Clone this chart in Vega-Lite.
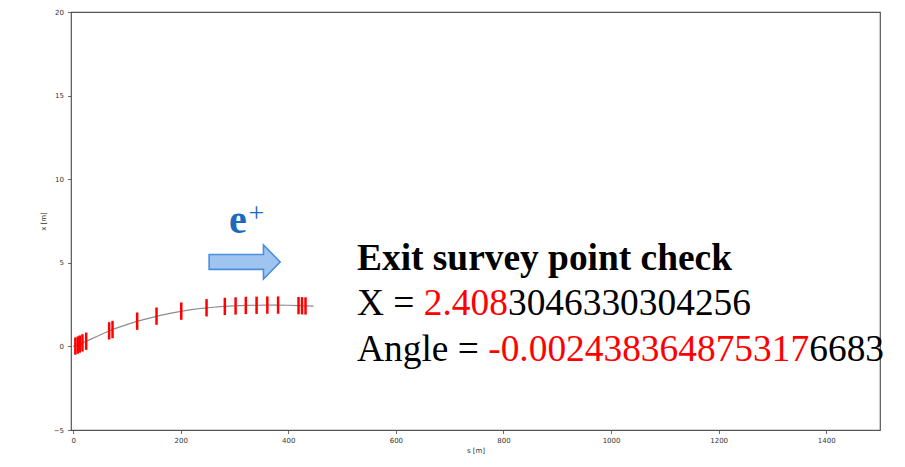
{
  "$schema": "https://vega.github.io/schema/vega-lite/v6.json",
  "width": 809,
  "height": 418,
  "autosize": "none",
  "padding": {"left": 71, "top": 12, "right": 25, "bottom": 37},
  "background": "white",
  "config": {
    "view": {"stroke": "#555555", "strokeWidth": 1.2},
    "axis": {
      "domain": false,
      "grid": false,
      "tickColor": "#444444",
      "tickSize": 3.5,
      "tickWidth": 0.8,
      "labelFont": "DejaVu Sans",
      "labelFontSize": 7,
      "labelColor": "#333333",
      "titleFont": "DejaVu Sans",
      "titleFontSize": 7,
      "titleFontWeight": "normal",
      "titleColor": "#333333"
    }
  },
  "datasets": {
    "curve": [
      {"s": 0, "x": 0.0}, {"s": 10, "x": 0.1}, {"s": 20, "x": 0.25}, {"s": 30, "x": 0.39},
      {"s": 45, "x": 0.61}, {"s": 60, "x": 0.83}, {"s": 75, "x": 1.03}, {"s": 90, "x": 1.2},
      {"s": 105, "x": 1.36}, {"s": 120, "x": 1.51}, {"s": 140, "x": 1.68}, {"s": 160, "x": 1.84},
      {"s": 180, "x": 1.98}, {"s": 200, "x": 2.1}, {"s": 220, "x": 2.2}, {"s": 240, "x": 2.28},
      {"s": 260, "x": 2.34}, {"s": 280, "x": 2.39}, {"s": 300, "x": 2.42}, {"s": 320, "x": 2.45},
      {"s": 340, "x": 2.46}, {"s": 360, "x": 2.47}, {"s": 380, "x": 2.47}, {"s": 400, "x": 2.46},
      {"s": 420, "x": 2.44}, {"s": 447, "x": 2.41}
    ],
    "magnets": [
      {"s": 4.1, "x": 0.02}, {"s": 8.6, "x": 0.08}, {"s": 12.3, "x": 0.14}, {"s": 17.3, "x": 0.21},
      {"s": 24.2, "x": 0.31}, {"s": 66.9, "x": 0.93}, {"s": 73.2, "x": 1.01}, {"s": 119, "x": 1.51},
      {"s": 155, "x": 1.81}, {"s": 201, "x": 2.11}, {"s": 248, "x": 2.31}, {"s": 282, "x": 2.39},
      {"s": 302, "x": 2.42}, {"s": 321, "x": 2.45}, {"s": 341, "x": 2.46}, {"s": 361, "x": 2.47},
      {"s": 381, "x": 2.47}, {"s": 419, "x": 2.44}, {"s": 425.5, "x": 2.43}, {"s": 432, "x": 2.42}
    ],
    "arrow": [{"s": 318.8, "x": 5.05}],
    "electron": [{"s": 289.7, "x": 6.78, "text": "e"}],
    "charge": [{"s": 326, "x": 7.44, "text": "+"}],
    "heading": [{"s": 527.7, "x": 4.57, "text": "Exit survey point check"}],
    "blacktext": [
      {"s": 527.7, "x": 1.87, "text": "X ="},
      {"s": 808.3, "x": 1.87, "text": "3046330304256"},
      {"s": 527.7, "x": -0.87, "text": "Angle ="},
      {"s": 1368.5, "x": -0.87, "text": "6683"}
    ],
    "redtext": [
      {"s": 651.8, "x": 1.87, "text": "2.408"},
      {"s": 771.6, "x": -0.87, "text": "-0.002438364875317"}
    ]
  },
  "encoding": {
    "x": {
      "field": "s", "type": "quantitative",
      "scale": {"domain": [-4, 1500], "nice": false, "zero": false},
      "axis": {"title": "s [m]", "values": [0, 200, 400, 600, 800, 1000, 1200, 1400], "format": "d", "labelPadding": 3, "titlePadding": 3}
    },
    "y": {
      "field": "x", "type": "quantitative",
      "scale": {"domain": [-5, 20], "nice": false, "zero": false},
      "axis": {"title": "x [m]", "values": [-5, 0, 5, 10, 15, 20], "format": "d", "labelPadding": 4, "titlePadding": 7, "labelExpr": "replace(datum.label, '-', '−')"}
    }
  },
  "layer": [
    {
      "data": {"name": "curve"},
      "mark": {"type": "line", "color": "#8c8c8c", "strokeWidth": 1.2}
    },
    {
      "data": {"name": "magnets"},
      "mark": {"type": "point", "shape": "M0,-1L0,1", "size": 300, "filled": false, "color": "#ff0000", "strokeWidth": 2.5, "opacity": 1}
    },
    {
      "data": {"name": "arrow"},
      "mark": {"type": "point", "shape": "M-1,-0.21L0.53,-0.21L0.53,-0.48L1,0L0.53,0.48L0.53,0.21L-1,0.21Z", "size": 5041, "filled": true, "fill": "#9fc4ef", "stroke": "#4a8ee0", "strokeWidth": 1.6, "opacity": 1}
    },
    {
      "data": {"name": "electron"},
      "mark": {"type": "text", "align": "left", "baseline": "alphabetic", "font": "Liberation Serif", "fontSize": 40, "fontWeight": "bold", "color": "#1b6ac0"},
      "encoding": {"text": {"field": "text"}}
    },
    {
      "data": {"name": "charge"},
      "mark": {"type": "text", "align": "left", "baseline": "alphabetic", "font": "Liberation Serif", "fontSize": 28, "color": "#1b6ac0"},
      "encoding": {"text": {"field": "text"}}
    },
    {
      "data": {"name": "heading"},
      "mark": {"type": "text", "align": "left", "baseline": "alphabetic", "font": "Liberation Serif", "fontSize": 37.4, "fontWeight": "bold", "color": "#000000"},
      "encoding": {"text": {"field": "text"}}
    },
    {
      "data": {"name": "blacktext"},
      "mark": {"type": "text", "align": "left", "baseline": "alphabetic", "font": "Liberation Serif", "fontSize": 37.4, "color": "#000000"},
      "encoding": {"text": {"field": "text"}}
    },
    {
      "data": {"name": "redtext"},
      "mark": {"type": "text", "align": "left", "baseline": "alphabetic", "font": "Liberation Serif", "fontSize": 37.4, "color": "#ff0000"},
      "encoding": {"text": {"field": "text"}}
    }
  ]
}
